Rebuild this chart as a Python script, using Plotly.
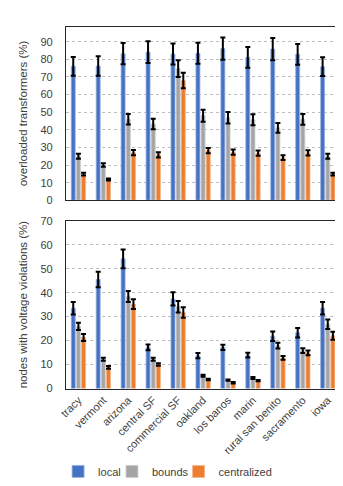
import plotly.graph_objects as go
from plotly.subplots import make_subplots

categories = ["tracy", "vermont", "arizona", "central SF", "commercial SF", "oakland",
              "los banos", "marin", "rural san benito", "sacramento", "iowa"]

# overloaded transformers (%)
trans_local = [76, 76.2, 83.2, 84.1, 83, 83.4, 86.1, 81.1, 85.8, 82.8, 75.8]
trans_local_err = [5.3, 5.5, 6, 6.2, 6, 6, 6.3, 5.9, 6.3, 5.9, 5.3]
trans_bounds = [25, 20, 46, 43.3, 74.7, 48, 46.8, 45.7, 41.1, 45.9, 25]
trans_bounds_err = [1.4, 1, 3, 3, 4.7, 3.4, 3.3, 3.1, 2.8, 3, 1.4]
trans_central = [14.8, 11.8, 27, 25.8, 67.9, 28.2, 27.3, 26.7, 24.2, 26.9, 14.8]
trans_central_err = [0.8, 0.6, 1.5, 1.5, 4.4, 1.5, 1.5, 1.5, 1.3, 1.5, 0.8]

# nodes with voltage violations (%)
volt_local = [33.5, 45.5, 54.1, 17.2, 37.4, 13.7, 17.2, 13.9, 21.8, 23.3, 33.5]
volt_local_err = [2.6, 3.2, 3.9, 1.2, 2.8, 1.1, 1.1, 1.0, 2.0, 2.0, 2.6]
volt_bounds = [25.9, 12.2, 38.4, 12.2, 34.1, 5.3, 3.5, 4.4, 17.9, 15.8, 26.8]
volt_bounds_err = [1.5, 0.6, 2.3, 0.6, 2.4, 0.4, 0.3, 0.4, 1.2, 1.0, 2.0]
volt_central = [21.3, 8.8, 35.2, 10.0, 31.7, 3.75, 2.4, 3.3, 12.8, 14.9, 22]
volt_central_err = [1.5, 0.6, 2.0, 0.5, 2.2, 0.3, 0.3, 0.3, 0.8, 1.0, 1.7]

series_names = ["local", "bounds", "centralized"]
colors = ["#4472C4", "#A5A5A5", "#ED7D31"]
edge_colors = ["#9DB3E0", "#CDCDCD", "#F5B58A"]
legend_ids = ["legend", "legend2", "legend3"]

fig = make_subplots(rows=2, cols=1)

top = [(trans_local, trans_local_err), (trans_bounds, trans_bounds_err), (trans_central, trans_central_err)]
bot = [(volt_local, volt_local_err), (volt_bounds, volt_bounds_err), (volt_central, volt_central_err)]

for i, (name, col) in enumerate(zip(series_names, colors)):
    vals, errs = top[i]
    fig.add_trace(go.Bar(x=categories, y=vals, name=name, marker_color=col,
                         marker_line=dict(width=0.8, color=edge_colors[i]), showlegend=False,
                         error_y=dict(type="data", array=errs, color="black", thickness=2, width=2.5)),
                  row=1, col=1)
for i, (name, col) in enumerate(zip(series_names, colors)):
    vals, errs = bot[i]
    fig.add_trace(go.Bar(x=categories, y=vals, name=name, marker_color=col,
                         marker_line=dict(width=0.8, color=edge_colors[i]),
                         showlegend=True, legend=legend_ids[i],
                         error_y=dict(type="data", array=errs, color="black", thickness=2, width=2.5)),
                  row=2, col=1)

font_fam = "Liberation Sans"
txt = "#404040"
W, H = 343, 486
xdom = [52 / W, 332 / W]
yaxis_common = dict(showgrid=True, gridcolor="#BFBFBF", griddash="dot", gridwidth=1,
                    showline=True, linecolor="#262626", linewidth=1, mirror=True, ticks="",
                    zeroline=False, tickfont=dict(size=11, color=txt), ticklabelstandoff=10)

# legend entry left edges (px)
legend_sq_x = [72, 127, 195]
legends = {}
for lid, sx in zip(legend_ids, legend_sq_x):
    legends[lid] = dict(orientation="h", x=(sx - 28) / W, xanchor="left", y=1 - 469 / H,
                        yanchor="middle", font=dict(size=11, color=txt), bgcolor="rgba(0,0,0,0)")

fig.update_layout(
    width=W, height=H,
    margin=dict(l=0, r=0, t=0, b=0),
    paper_bgcolor="white", plot_bgcolor="white",
    barmode="group", bargap=0.38, bargroupgap=0.22,
    font=dict(family=font_fam, size=11, color=txt),
    xaxis=dict(domain=xdom, anchor="y", showticklabels=False, showline=True, linecolor="#262626",
               linewidth=1, mirror=True, ticks=""),
    yaxis=dict(domain=[1 - 191 / H, 1 - 13 / H], range=[0, 98.5],
               tickvals=[0, 10, 20, 30, 40, 50, 60, 70, 80, 90],
               title=dict(text="overloaded transformers (%)", font=dict(size=11.5, color=txt), standoff=10),
               **yaxis_common),
    xaxis2=dict(domain=xdom, anchor="y2", showline=True, linecolor="#262626", linewidth=1, mirror=True,
                ticks="", tickangle=-45, tickfont=dict(size=11, color=txt)),
    yaxis2=dict(domain=[1 - 384 / H, 1 - 212 / H], range=[0, 70],
                tickvals=[0, 10, 20, 30, 40, 50, 60, 70],
                title=dict(text="nodes with voltage violations (%)", font=dict(size=11.5, color=txt), standoff=10),
                **yaxis_common),
    **legends,
)

fig.write_html("out.html")
